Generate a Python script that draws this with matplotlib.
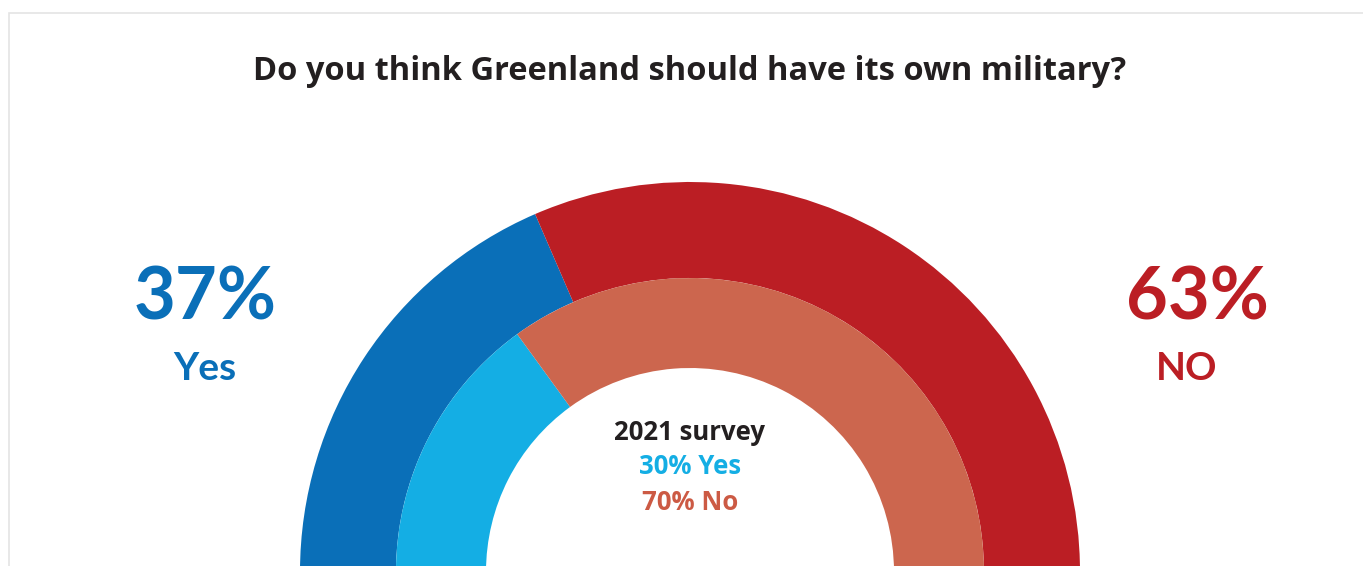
import matplotlib
matplotlib.use("Agg")
import matplotlib.pyplot as plt
from matplotlib.patches import Rectangle

# ── Data ──────────────────────────────────────────────────────────────────────
title = "Do you think Greenland should have its own military?"
labels = ["Yes", "NO"]
share_now = [37, 63]          # outer ring, current survey
share_2021 = [30, 70]         # inner ring, 2021 survey
labels_2021 = ["Yes", "No"]

# ── Style ─────────────────────────────────────────────────────────────────────
plt.rcParams["font.family"] = ["Lato", "DejaVu Sans"]
wide = ["Open Sans", "DejaVu Sans"]
outer_colors = ["#0a6fb8", "#bb1e24"]
inner_colors = ["#14aee4", "#cc664e"]
text_2021 = ["#14aee4", "#cc5a44"]

W, H = 1363, 566
fig = plt.figure(figsize=(W / 100, H / 100), dpi=100)
ax = fig.add_axes([0, 0, 1, 1])

# pixel-like coordinates, y measured upward from the bottom edge
cx, cy = 690, H - 572
r_out, r_mid, r_in = 390, 294, 204


def half_donut(values, radius, width, colors):
    # pad with an invisible half so the visible part spans 180 degrees
    vals = list(values) + [sum(values)]
    wedges, _ = ax.pie(
        vals, startangle=180, counterclock=False, radius=radius,
        center=(cx, cy), colors=colors + ["none"],
        wedgeprops=dict(width=width, linewidth=0), frame=True,
    )
    wedges[-1].set_visible(False)


half_donut(share_now, r_out, r_out - r_mid, outer_colors)
half_donut(share_2021, r_mid, r_mid - r_in, inner_colors)

ax.set_xlim(0, W)
ax.set_ylim(0, H)
ax.set_aspect("equal")
ax.axis("off")

# light frame around the card
ax.add_patch(Rectangle((9, -10), W, H - 13 + 10, fill=False,
                       edgecolor="#e4e4e4", linewidth=1.2))

# ── Text ──────────────────────────────────────────────────────────────────────
ax.text(690, H - 72, title, ha="center", va="center", family=wide,
        fontsize=23.5, fontweight="bold", color="#231f20")

ax.text(205, H - 299, f"{share_now[0]}%", ha="center", va="center",
        fontsize=52, fontweight="bold", color=outer_colors[0])
ax.text(205, H - 368, labels[0], ha="center", va="center",
        fontsize=28, fontweight="bold", color=outer_colors[0])

ax.text(1197, H - 299, f"{share_now[1]}%", ha="center", va="center",
        fontsize=52, fontweight="bold", color=outer_colors[1])
ax.text(1187, H - 368, labels[1], ha="center", va="center",
        fontsize=28, fontweight="bold", color=outer_colors[1])

ax.text(690, H - 432, "2021 survey", ha="center", va="center", family=wide,
        fontsize=18.5, fontweight="bold", color="#231f20")
for i, (v, lab) in enumerate(zip(share_2021, labels_2021)):
    ax.text(690, H - 467 - 36 * i, f"{v}% {lab}", ha="center", va="center",
            family=wide, fontsize=18.5, fontweight="bold",
            color=text_2021[i])

fig.savefig("out.png", dpi=100)
